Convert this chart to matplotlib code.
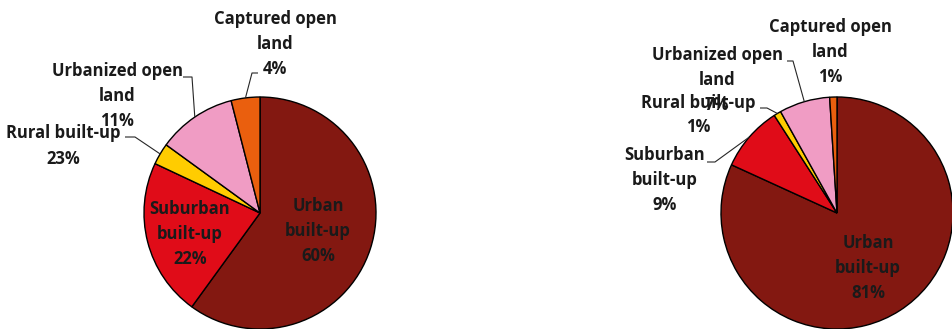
import numpy as np
import matplotlib
matplotlib.use("Agg")
import matplotlib.pyplot as plt

# Land-cover composition of new urban extent, two periods
categories = ["Urban\nbuilt-up", "Suburban\nbuilt-up", "Rural built-up",
              "Urbanized open\nland", "Captured open\nland"]
share_left = [60, 22, 3, 11, 4]
share_right = [81, 9, 1, 7, 1]
pct_left = ["60%", "22%", "23%", "11%", "4%"]
pct_right = ["81%", "9%", "1%", "7%", "1%"]

colors = ["#831811", "#E00C18", "#FFCC00", "#F09CC4", "#EA5F0E"]
text_color = "#1a1a1a"

W, H = 952, 329
fig = plt.figure(figsize=(W / 100, H / 100), dpi=100)
ax = fig.add_axes([0, 0, 1, 1])
ax.set_xlim(0, W)
ax.set_ylim(0, H)
ax.set_aspect("equal")
ax.axis("off")

R = 116
font = dict(family=["Open Sans", "DejaVu Sans"], fontsize=12, fontweight="bold",
            color=text_color, ha="center", va="center", linespacing=1.5)


def py(y):
    return H - y


def draw_pie(cx, cy, values, pcts, label_pos, leaders):
    ax.pie(values, colors=colors, startangle=90, counterclock=False,
           center=(cx, py(cy)), radius=R, normalize=True,
           wedgeprops=dict(edgecolor="black", linewidth=1.0),
           frame=True)
    total = float(sum(values))
    cum = np.cumsum([0] + list(values))[:-1]
    for i, (name, pct) in enumerate(zip(categories, pcts)):
        lx, ly = label_pos[i]
        ax.text(cx + lx, py(cy + ly), f"{name}\n{pct}", zorder=5, **font)
        if i in leaders:
            mid = (cum[i] + values[i] / 2) / total * 360
            ang = np.deg2rad(90 - mid)
            ex, ey = cx + R * np.cos(ang), cy - R * np.sin(ang)
            (kx, ky), (tx, ty) = leaders[i]
            ax.plot([cx + tx, cx + kx, ex], [py(cy + ty), py(cy + ky), py(ey)],
                    color="#262626", lw=0.8, zorder=4, solid_capstyle="butt")


# left pie
draw_pie(260, 213, share_left, pct_left,
         label_pos=[(58, 18), (-70, 21), (-197, -67), (-143, -117), (15, -169)],
         leaders={2: ((-125, -76), (-135, -76)),
                  3: ((-68, -136), (-77, -136)),
                  4: ((-8, -140), (-2, -140))})

# right pie
draw_pie(837, 213, share_right, pct_right,
         label_pos=[(31, 55), (-172, -33), (-139, -98), (-120, -133), (-7, -161)],
         leaders={1: ((-122, -51), (-130, -51)),
                  2: ((-70, -105), (-77, -105)),
                  3: ((-44, -152), (-50, -152))})

ax.set_xlim(0, W)
ax.set_ylim(0, H)
ax.axis("off")
fig.savefig("out.png", dpi=100)
